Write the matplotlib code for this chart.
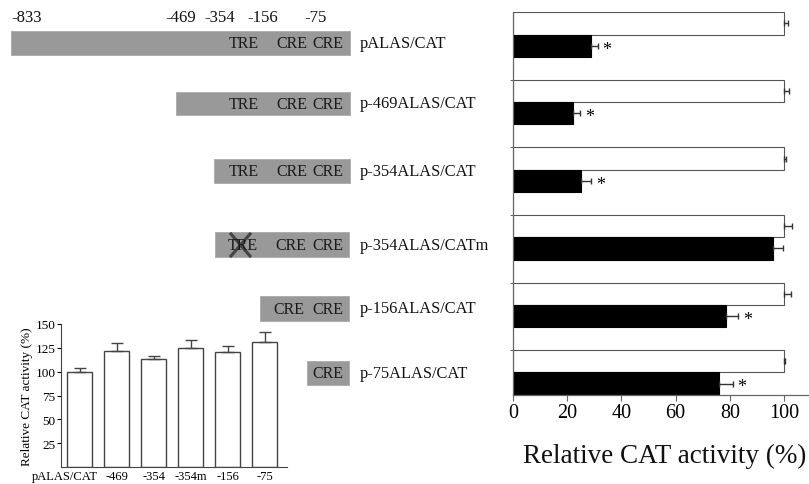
import matplotlib
matplotlib.use("Agg")
import matplotlib.pyplot as plt
from matplotlib.patches import Rectangle
import numpy as np

plt.rcParams['font.family'] = ['Liberation Serif', 'DejaVu Serif']

# ---------------- data ----------------
constructs = ["pALAS/CAT", "p-469ALAS/CAT", "p-354ALAS/CAT", "p-354ALAS/CATm",
              "p-156ALAS/CAT", "p-75ALAS/CAT"]
white_vals = [100, 100, 100, 100, 100, 100]
white_err = [1.5, 2.0, 0.8, 3.0, 2.5, 0.5]
black_vals = [28.7, 22.0, 25.0, 96.0, 78.6, 76.0]
black_err = [2.5, 2.7, 3.8, 3.6, 4.4, 5.0]
significant = [True, True, True, False, True, True]
xticks_main = [0, 20, 40, 60, 80, 100]

inset_labels = ["pALAS/CAT", "-469", "-354", "-354m", "-156", "-75"]
inset_vals = [100, 122, 113, 125, 121, 131.5]
inset_err = [3.5, 8, 3.5, 8.5, 6, 10.5]
inset_yticks = [25, 50, 75, 100, 125, 150]

# promoter diagram (positions in pixel space of the figure)
pos_labels = ["-833", "-469", "-354", "-156", "-75"]
pos_label_x = [27, 181, 220, 263, 316]
bar_left = [11, 176, 214, 215, 260, 307]
bar_right = [350, 350, 350, 349, 349, 349]
bar_top = [32, 93, 160, 233, 297, 362]
bar_bottom = [56, 116, 184, 258, 322, 386]
elements = [["TRE", "CRE", "CRE"], ["TRE", "CRE", "CRE"], ["TRE", "CRE", "CRE"],
            ["TRE", "CRE", "CRE"], ["CRE", "CRE"], ["CRE"]]
element_x = [[244, 292, 328], [244, 292, 328], [244, 292, 328],
             [243, 291, 328], [289, 328], [328]]
label_y = [44, 104, 172, 246, 309, 374]

W, H = 809, 485
fig = plt.figure(figsize=(W / 100, H / 100), dpi=100)

# -------- diagram overlay axes (pixel coordinates) --------
ov = fig.add_axes([0, 0, 1, 1], zorder=0)
ov.set_xlim(0, W)
ov.set_ylim(H, 0)
ov.axis('off')
gray = '#999999'
for i in range(len(bar_left)):
    ov.add_patch(Rectangle((bar_left[i], bar_top[i]), bar_right[i] - bar_left[i],
                           bar_bottom[i] - bar_top[i], facecolor=gray,
                           edgecolor='#aaaaaa', linewidth=0.6))
    yc = (bar_top[i] + bar_bottom[i]) / 2
    for el, ex in zip(elements[i], element_x[i]):
        ov.text(ex, yc + 0.5, el, ha='center', va='center', fontsize=11.5, color='#1a1a1a')
    ov.text(360, label_y[i], constructs[i], ha='left', va='center', fontsize=11.8, color='#111111')
for lab, lx in zip(pos_labels, pos_label_x):
    ov.text(lx, 18, lab, ha='center', va='center', fontsize=12, color='#111111')
# mutation cross on TRE of p-354ALAS/CATm
ov.plot([231, 250], [235, 257], color='#444444', lw=2.2)
ov.plot([231, 250], [257, 235], color='#444444', lw=2.2)

# -------- main horizontal bar chart --------
ax = fig.add_axes([513 / W, 1 - 396 / H, (W - 513) / W, (396 - 13) / H], zorder=1)
ax.patch.set_alpha(0)
n = len(constructs)
yc = np.arange(n)
h = 0.33
ax.barh(yc - h / 2, white_vals, height=h, color='white', edgecolor='#555555', linewidth=0.8)
ax.barh(yc + h / 2, black_vals, height=h, color='black', edgecolor='black', linewidth=0.8)
for i in range(n):
    ax.errorbar(white_vals[i], yc[i] - h / 2, xerr=[[0], [white_err[i]]], fmt='none',
                ecolor='#333333', elinewidth=1, capsize=2.5, capthick=1)
    ax.errorbar(black_vals[i], yc[i] + h / 2, xerr=[[0], [black_err[i]]], fmt='none',
                ecolor='#333333', elinewidth=1, capsize=2.5, capthick=1)
    if significant[i]:
        ax.text(black_vals[i] + black_err[i] + 3.5, yc[i] + h / 2 + 0.05, '*',
                ha='center', va='center', fontsize=13)
ax.set_ylim(n - 1 + 2 * h / 2 + 0.005, -h - 0.005)
ax.set_xlim(0, (W - 513) / 2.71)
ax.set_yticks(yc[1:] - h)
ax.set_yticklabels([])
ax.tick_params(axis='y', length=2.5, width=0.8, color='#666666')
ax.set_xticks(xticks_main)
ax.tick_params(axis='x', labelsize=14.5, length=4, width=0.8, color='#666666', pad=2)
for s in ['top', 'right']:
    ax.spines[s].set_visible(False)
for s in ['left', 'bottom']:
    ax.spines[s].set_color('#666666')
    ax.spines[s].set_linewidth(0.9)
ax.set_xlabel('Relative CAT activity (%)', fontsize=19.5, color='#111111')
ax.xaxis.set_label_coords(0.512, -0.125)

# -------- inset vertical bar chart --------
ai = fig.add_axes([61 / W, 1 - 468 / H, (287 - 61) / W, (468 - 325) / H], zorder=1)
ai.patch.set_alpha(0)
xi = np.arange(len(inset_labels))
ai.bar(xi, inset_vals, width=0.68, color='white', edgecolor='#444444', linewidth=1.0)
ai.errorbar(xi, inset_vals, yerr=[np.zeros(len(xi)), inset_err], fmt='none',
            ecolor='#444444', elinewidth=1, capsize=4, capthick=1)
ai.set_xlim(-0.51, 5.6)
ai.set_ylim(0, 150)
ai.set_yticks(inset_yticks)
tick_pos = xi.astype(float)
tick_pos[0] = -0.4
ai.set_xticks(tick_pos)
ai.set_xticklabels(inset_labels, fontsize=9)
ai.tick_params(axis='y', labelsize=9.5, length=3, width=0.8, pad=1)
ai.tick_params(axis='x', length=0, pad=2)
for s in ['top', 'right']:
    ai.spines[s].set_visible(False)
for s in ['left', 'bottom']:
    ai.spines[s].set_color('#444444')
ai.set_ylabel('Relative CAT activity (%)', fontsize=9.5, labelpad=2)

fig.savefig('out.png', dpi=100)
